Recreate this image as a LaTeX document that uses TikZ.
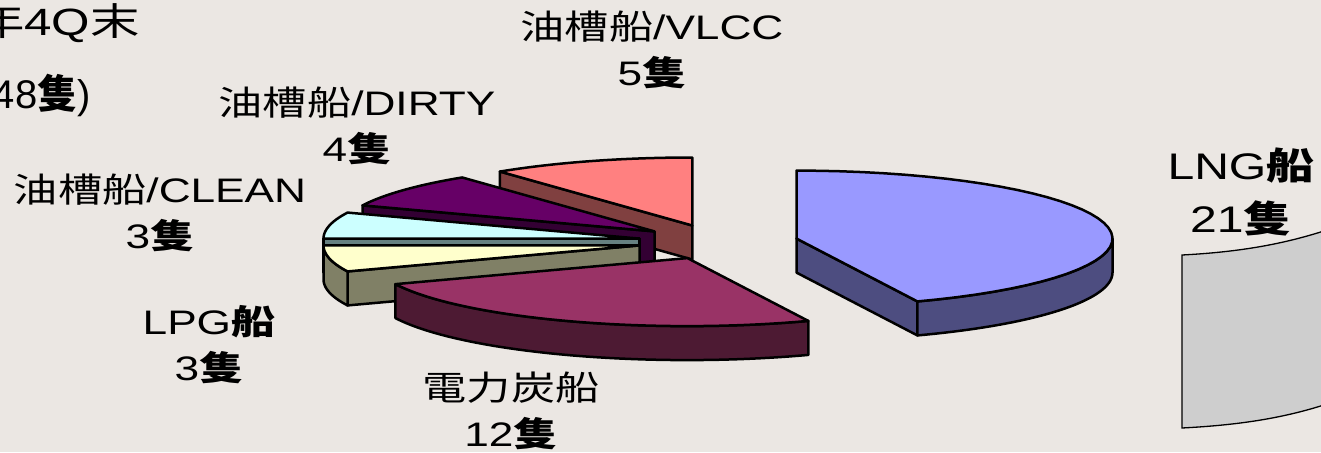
\documentclass[tikz,border=0pt]{standalone}
\usepackage{fontspec}
\setmainfont{Liberation Sans}[FakeStretch=1.3]
\newfontfamily\jp{Noto Sans CJK JP}[FakeStretch=1.3]
\newfontfamily\plainsans{Liberation Sans}
\newfontfamily\plainjp{Noto Sans CJK JP}
\definecolor{bgpaper}{RGB}{235,231,227}
\definecolor{lngtop}{RGB}{153,153,255}
\definecolor{lngside}{RGB}{77,77,128}
\definecolor{coaltop}{RGB}{153,51,102}
\definecolor{coalside}{RGB}{77,26,51}
\definecolor{lpgtop}{RGB}{255,255,204}
\definecolor{lpgside}{RGB}{128,128,102}
\definecolor{cleantop}{RGB}{204,255,255}
\definecolor{cleanside}{RGB}{102,128,128}
\definecolor{dirtytop}{RGB}{102,0,102}
\definecolor{dirtyside}{RGB}{51,0,51}
\definecolor{vlcctop}{RGB}{255,128,128}
\definecolor{vlccside}{RGB}{128,64,64}
\definecolor{nextgray}{RGB}{206,206,206}

\begin{document}
\begin{tikzpicture}[
    x=1pt, y=-1pt, samples=40,
    face/.style={draw=black, line width=2.5pt, line join=round},
    lbl/.style={align=center, inner sep=0pt, font=\fontsize{34}{46}\selectfont},
    biglbl/.style={align=center, inner sep=0pt, font=\fontsize{37}{53}\selectfont},
    title/.style={inner sep=0pt, font=\fontsize{38}{46}\selectfont}
]
% Background
\fill[bgpaper] (0,0) rectangle (1321,452);
\useasboundingbox (0,0) rectangle (1321,452);
\clip (0,0) rectangle (1321,452);

% VLCC slice
\begin{scope}[shift={(692.3,225.5)}]
  \filldraw[face, fill=vlccside] (0,0) -- ++({316*sin(322.5)},{-68*cos(322.5)}) -- ++(0,34) -- (0,34) -- cycle;
  \filldraw[face, fill=vlcctop] (0,0) -- plot[domain=322.5:360] ({316*sin(\x)},{-68*cos(\x)}) -- cycle;
\end{scope}

% DIRTY slice
\begin{scope}[shift={(654.5,231.4)}]
  \filldraw[face, fill=dirtyside] (0,0) -- ++({316*sin(292.5)},{-68*cos(292.5)}) -- ++(0,34) -- (0,34) -- cycle;
  \filldraw[face, fill=dirtytop] (0,0) -- plot[domain=292.5:322.5] ({316*sin(\x)},{-68*cos(\x)}) -- cycle;
\end{scope}

% CLEAN slice
\begin{scope}[shift={(639.5,238.6)}]
  \filldraw[face, fill=cleanside] (0,0) -- (-316,0) -- (-316,34) -- (0,34) -- cycle;
  \filldraw[face, fill=cleantop] (0,0) -- plot[domain=270:292.5] ({316*sin(\x)},{-68*cos(\x)}) -- cycle;
\end{scope}

% LPG slice
\begin{scope}[shift={(639.5,245.4)}]
  \filldraw[face, fill=lpgside] (0,0) -- ++({316*sin(247.5)},{-68*cos(247.5)}) -- ++(0,34) -- (0,34) -- cycle;
  \filldraw[face, fill=lpgside] plot[domain=247.5:270] ({316*sin(\x)},{-68*cos(\x)}) -- plot[domain=270:247.5] ({316*sin(\x)},{34-68*cos(\x)}) -- cycle;
  \filldraw[face, fill=lpgtop] (0,0) -- plot[domain=247.5:270] ({316*sin(\x)},{-68*cos(\x)}) -- cycle;
\end{scope}

% Coal slice
\begin{scope}[shift={(687.4,258.1)}]
  \filldraw[face, fill=coalside] plot[domain=157.5:247.5] ({316*sin(\x)},{-68*cos(\x)}) -- plot[domain=247.5:157.5] ({316*sin(\x)},{34-68*cos(\x)}) -- cycle;
  \filldraw[face, fill=coaltop] (0,0) -- plot[domain=157.5:247.5] ({316*sin(\x)},{-68*cos(\x)}) -- cycle;
\end{scope}

% LNG slice
\begin{scope}[shift={(796.5,238.6)}]
  \filldraw[face, fill=lngside] (0,0) -- ++({316*sin(157.5)},{-68*cos(157.5)}) -- ++(0,34) -- (0,34) -- cycle;
  \filldraw[face, fill=lngside] plot[domain=90:157.5] ({316*sin(\x)},{-68*cos(\x)}) -- plot[domain=157.5:90] ({316*sin(\x)},{34-68*cos(\x)}) -- cycle;
  \filldraw[face, fill=lngtop] (0,0) -- plot[domain=0:157.5] ({316*sin(\x)},{-68*cos(\x)}) -- cycle;
\end{scope}

% Next chart, cut at the edge
\filldraw[fill=nextgray, draw=black, line width=1.3pt] (1182,255) .. controls (1240,252) and (1285,244) .. (1330,229) -- (1330,403) .. controls (1285,418) and (1240,425) .. (1182,428) -- cycle;

% Labels
\node[lbl] (vlcclbl) at (652,50) {{\jp 油槽船}/VLCC\\5{\jp\bfseries 隻}};
\node[lbl] (dirtylbl) at (357,126) {{\jp 油槽船}/DIRTY\\4{\jp\bfseries 隻}};
\node[lbl] (cleanlbl) at (160,213) {{\jp 油槽船}/CLEAN\\3{\jp\bfseries 隻}};
\node[lbl] (lpglbl) at (209,345) {LPG{\jp\bfseries 船}\\3{\jp\bfseries 隻}};
\node[lbl] (coallbl) at (511,411) {{\jp 電力炭船}\\12{\jp\bfseries 隻}};
\node[biglbl] (lnglbl) at (1241,192) {LNG{\jp\bfseries 船}\\21{\jp\bfseries 隻}};

% Title, cut at the edge
\node[title, anchor=base east] (period) at (140,36) {{\jp 年}4Q{\jp 末}};
\node[inner sep=0pt, anchor=base east, font=\fontsize{40}{46}\selectfont] (total) at (91,108) {\plainsans 48{\plainjp\bfseries 隻})};

\end{tikzpicture}
\end{document}
